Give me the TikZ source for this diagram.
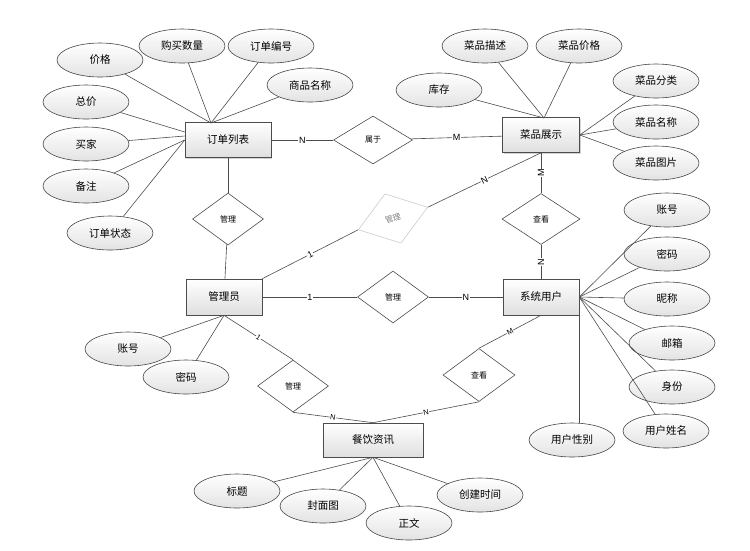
\documentclass[tikz,border=0pt]{standalone}
\usepackage{fontspec}
\setmainfont{Noto Sans CJK SC}
\newfontfamily\lab{Liberation Sans}
\usetikzlibrary{shapes.geometric,shadows}
\begin{document}
\begin{tikzpicture}[x=1pt,y=-1pt,
  attr/.style={ellipse, draw=gray!55!black, line width=0.6pt, top color=white, bottom color=gray!22,
    minimum width=86pt, minimum height=34pt, inner sep=0pt, font=\fontsize{10.5}{12}\selectfont},
  ent/.style={rectangle, draw=gray!60!black, line width=0.6pt, top color=white, bottom color=gray!25,
    minimum height=35pt, inner sep=0pt, font=\fontsize{10.5}{12}\selectfont,
    drop shadow={shadow xshift=1pt, shadow yshift=-1pt, opacity=0.35}},
  rel/.style={diamond, draw=gray!60!black, line width=0.6pt, fill=white, inner sep=0pt,
    minimum width=71pt, minimum height=52pt, font=\fontsize{8}{9}\selectfont},
  conn/.style={draw=gray!60!black, line width=0.6pt},
  lbl/.style={font=\lab\fontsize{9}{9}\selectfont, fill=white, inner sep=0.6pt},
  lbls/.style={font=\lab\fontsize{7.5}{7.5}\selectfont, fill=white, inner sep=0.5pt}]
\useasboundingbox (0,0) rectangle (750,550);

% entities
\node[ent, minimum width=86pt] (ol) at (228,140) {订单列表};
\node[ent, minimum width=77pt] (dish) at (541,135) {菜品展示};
\node[ent, minimum width=76pt, minimum height=36pt] (adm) at (224,297) {管理员};
\node[ent, minimum width=76pt, minimum height=36pt] (su) at (541,297) {系统用户};
\node[ent, minimum width=100pt, minimum height=34pt] (news) at (373,440) {餐饮资讯};

% relationships
\node[rel, minimum width=79pt, minimum height=48pt] (belong) at (373,140) {属于};
\node[rel] (m1) at (228,219) {管理};
\node[rel, draw=gray!40, text=gray, minimum width=73pt, rotate=18] (gd) at (393,218.5) {管理};
\node[rel] (m2) at (393,297) {管理};
\node[rel, minimum width=78pt, minimum height=51pt] (v1) at (541,219) {查看};
\node[rel] (m3) at (293,386) {管理};
\node[rel, minimum width=72pt, minimum height=53pt] (v2) at (479,375) {查看};

% attributes of 订单列表
\node[attr] (price) at (100,60) {价格};
\node[attr] (qty) at (182,46) {购买数量};
\node[attr] (ono) at (271,46) {订单编号};
\node[attr] (pname) at (310,85) {商品名称};
\node[attr] (total) at (86,102) {总价};
\node[attr] (buyer) at (86,144) {买家};
\node[attr] (note) at (86,186) {备注};
\node[attr] (status) at (110,233) {订单状态};

% attributes of 菜品展示
\node[attr] (ddesc) at (485,46) {菜品描述};
\node[attr] (dprice) at (579,46) {菜品价格};
\node[attr] (stock) at (439,90) {库存};
\node[attr] (dcat) at (656,81) {菜品分类};
\node[attr] (dname) at (656,122) {菜品名称};
\node[attr] (dpic) at (656,163) {菜品图片};

% attributes of 系统用户
\node[attr] (uacc) at (667,210) {账号};
\node[attr] (upwd) at (667,254) {密码};
\node[attr] (unick) at (667,299) {昵称};
\node[attr] (umail) at (672,343) {邮箱};
\node[attr] (uid) at (672,387) {身份};
\node[attr] (uname) at (666,431) {用户姓名};
\node[attr] (usex) at (572,440) {用户性别};

% attributes of 管理员
\node[attr] (aacc) at (128,349) {账号};
\node[attr] (apwd) at (186,377) {密码};

% attributes of 餐饮资讯
\node[attr] (ntitle) at (237,491) {标题};
\node[attr] (ncover) at (323,506) {封面图};
\node[attr] (ntext) at (409,523) {正文};
\node[attr] (ntime) at (480,495) {创建时间};

\coordinate (olT) at (211,123);
\coordinate (dishT) at (544,118);

% attribute connectors
\foreach \a in {price,qty,ono,pname} \draw[conn] (\a) -- (olT);
\draw[conn] (total) -- ([yshift=8pt]ol.west);
\draw[conn] (buyer) -- ([yshift=4pt]ol.west);
\draw[conn] (note) -- (ol.west);
\draw[conn] (status) -- (ol.west);
\foreach \a in {stock,ddesc,dprice} \draw[conn] (\a) -- (dishT);
\foreach \a in {dcat,dname,dpic} \draw[conn] (\a) -- (dish.east);
\foreach \a in {uacc,upwd,unick,umail,uid,uname} \draw[conn] (\a) -- (su.east);
\draw[conn] (su.east) -- (su.east |- usex.north);
\foreach \a in {aacc,apwd} \draw[conn] (\a) -- (adm.south);
\foreach \a in {ntitle,ncover,ntext,ntime} \draw[conn] (\a) -- (news.south);

% relationship connectors
\draw[conn] (ol) -- node[lbl]{N} (belong);
\draw[conn] (belong) -- node[lbl]{M} (dish);
\draw[conn] (ol) -- (m1);
\draw[conn] (m1) -- (adm);
\draw[conn] (adm.north east) -- node[lbl, rotate=27]{1} (gd.west);
\draw[conn] (gd.east) -- node[lbl, rotate=26]{N} (dish.south);
\draw[conn] (dish) -- node[lbl, rotate=90]{M} (v1);
\draw[conn] (v1) -- node[lbl, rotate=90]{N} (su);
\draw[conn] (adm) -- node[lbl]{1} (m2);
\draw[conn] (m2) -- node[lbl]{N} (su);
\draw[conn] (adm.south) -- node[lbls, rotate=-33]{1} (m3.north);
\draw[conn] (m3.south) -- node[lbls, rotate=-8]{N} (news.north);
\draw[conn] (su.south) -- node[lbls, rotate=29]{M} (v2.north);
\draw[conn] (v2.south) -- node[lbls, rotate=11]{N} (news.north);
\end{tikzpicture}
\end{document}
